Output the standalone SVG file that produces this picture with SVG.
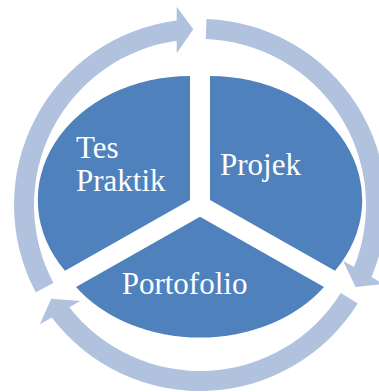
<svg xmlns="http://www.w3.org/2000/svg" width="379" height="392" viewBox="0 0 379 392">
  <defs>
    <style>
      .wedge { fill: #4f81bd; }
      .ring { fill: #b0c2de; }
      .label { fill: #ffffff; font-family: "Liberation Serif", "Times New Roman", serif; font-size: 31px; }
    </style>
    <!-- one arc segment of the cycle ring, ending in an arrowhead; reused rotated -->
    <path id="arc-arrow" d="M 35.77 292.32 A 186 186 0 0 1 176.7 20.47 L 176.7 6.7 L 193.3 29.3 L 176.7 53.3 L 176.7 40.64 A 166 166 0 0 0 53.43 282.93 Z"/>
  </defs>
  <rect width="379" height="392" fill="#ffffff"/>

  <!-- cycle arrows around the pie -->
  <g id="connectors" class="ring">
    <use href="#arc-arrow"/>
    <use href="#arc-arrow" transform="rotate(120 200 205)"/>
    <use href="#arc-arrow" transform="rotate(240 200 205)"/>
  </g>

  <g id="tes-praktik">
    <path class="wedge" d="M 190 76 A 152 124 0 0 0 65 270.8 L 190 200 Z"/>
    <text class="label" x="76" y="158.3">Tes</text>
    <text class="label" x="76" y="190.7">Praktik</text>
  </g>

  <g id="projek">
    <path class="wedge" d="M 210 76 A 152 124 0 0 1 335 270.8 L 210 200 Z"/>
    <text class="label" x="220" y="175">Projek</text>
  </g>

  <g id="portofolio">
    <path class="wedge" d="M 76 287 A 152 120 0 0 0 324 287 L 200 216.7 Z"/>
    <text class="label" x="121.7" y="294">Portofolio</text>
  </g>
</svg>
